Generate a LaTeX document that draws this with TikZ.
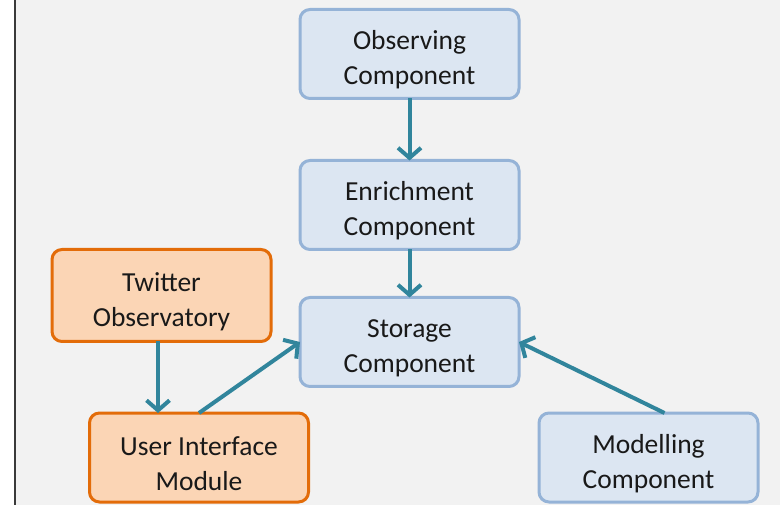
\documentclass[tikz,border=0pt]{standalone}
\usepackage{fontspec}
\setmainfont{Carlito}
\usetikzlibrary{arrows.meta,calc}
\definecolor{canvas}{HTML}{F2F2F2}
\definecolor{frameline}{HTML}{3A3A3A}
\definecolor{bluefill}{HTML}{DCE6F2}
\definecolor{blueline}{HTML}{95B3D7}
\definecolor{orangefill}{HTML}{FBD5B5}
\definecolor{orangeline}{HTML}{E36C09}
\definecolor{flow}{HTML}{31859C}
% a tall strut on the first line lowers each label slightly inside its box
\newcommand{\lowstrut}{\rule{0pt}{31pt}}
\tikzset{
  comp/.style={draw=blueline, fill=bluefill, line width=3pt, rounded corners=10pt,
    minimum width=219pt, minimum height=89pt, align=center, outer sep=0pt,
    font=\fontsize{27.5}{35}\selectfont, text=black!90},
  extcomp/.style={comp, draw=orangeline, fill=orangefill},
  flowarrow/.style={draw=flow, line width=4pt,
    -{Straight Barb[length=10pt,width=23pt,line width=4pt]}}
}
\begin{document}
\begin{tikzpicture}[x=1pt,y=-1pt]
  \useasboundingbox (0,0) rectangle (780,505);
  % page background and left frame rule
  \fill[white] (0,0) rectangle (780,505);
  \fill[canvas] (16,0) rectangle (780,505);
  \draw[frameline, line width=2pt] (15,0) -- (15,505);

  % components
  \node[comp] (obs) at (409.5,54) {\lowstrut Observing\\Component};
  \node[comp] (enr) at (409.5,205) {\lowstrut Enrichment\\Component};
  \node[comp] (sto) at (409.5,342) {\lowstrut Storage\\Component};
  \node[extcomp, minimum height=92pt] (tw) at (161.5,295.5) {\lowstrut Twitter\\Observatory};
  \node[extcomp] (ui) at (199,457.5) {\lowstrut User Interface\\Module};
  \node[comp] (mod) at (648.5,457.5) {\lowstrut Modelling\\Component};

  % data flow
  \draw[flowarrow] (obs.south) -- (enr.north);
  \draw[flowarrow] (enr.south) -- (sto.north);
  \draw[flowarrow] ($(tw.south)+(-3.5,0)$) -- ($(tw.south |- ui.north)+(-3.5,0)$);
  \draw[flowarrow] (ui.north) -- (sto.west);
  \draw[flowarrow] ($(mod.north)+(16,0)$) -- (sto.east);
\end{tikzpicture}
\end{document}
